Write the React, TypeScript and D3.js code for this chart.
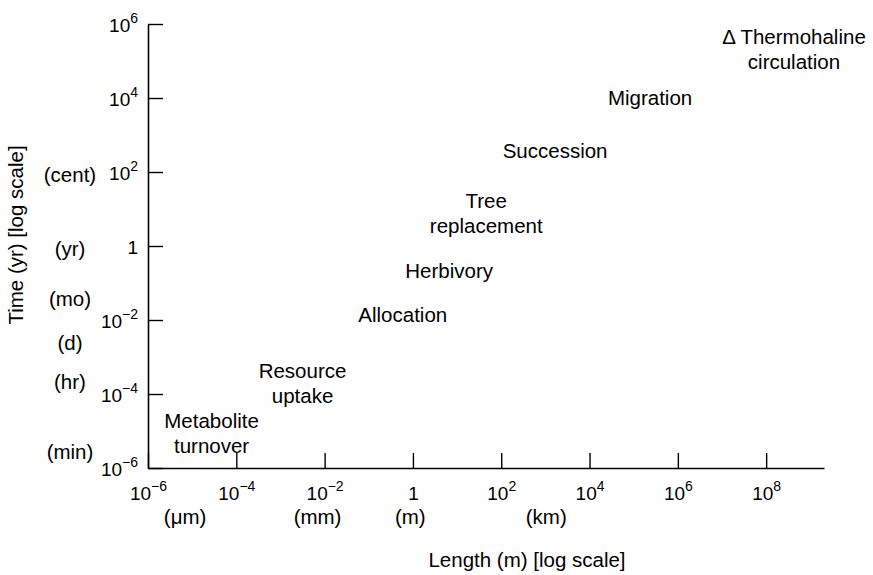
import React, { useRef, useEffect } from "react";
import * as d3 from "d3";

/* tick values (decades shown every 2) */
const X_TICKS = [1e-6, 1e-4, 1e-2, 1, 1e2, 1e4, 1e6, 1e8];
const Y_TICKS = [1e-6, 1e-4, 1e-2, 1, 1e2, 1e4, 1e6];

/* unit hints under / beside the axes */
const X_UNITS = ["(μm)", "(mm)", "(m)", "(km)"];
const X_UNIT_AT = [10 ** -5.16, 10 ** -2.16, 10 ** -0.06, 10 ** 3.02];
const Y_UNITS = ["(cent)", "(yr)", "(mo)", "(d)", "(hr)", "(min)"];
const Y_UNIT_AT = [10 ** 1.73, 10 ** -0.27, 10 ** -1.62, 10 ** -2.81, 10 ** -3.86, 10 ** -5.76];

/* processes: label lines, length (m), time (yr) */
const PROCESSES = [
  ["Metabolite", "turnover"],
  ["Resource", "uptake"],
  ["Allocation"],
  ["Herbivory"],
  ["Tree", "replacement"],
  ["Succession"],
  ["Migration"],
  ["Δ Thermohaline", "circulation"],
];
const PROCESS_LENGTH = [10 ** -4.56, 10 ** -2.5, 10 ** -0.23, 10 ** 0.82, 10 ** 1.66, 10 ** 3.22, 10 ** 5.37, 10 ** 8.63];
const PROCESS_TIME = [10 ** -4.92, 10 ** -3.57, 10 ** -2.05, 10 ** -0.865, 10 ** 1.03, 10 ** 2.38, 10 ** 3.81, 10 ** 5.46];

const FONT = "'Liberation Sans', Arial, Helvetica, sans-serif";

export default function App() {
  const svgRef = useRef<SVGSVGElement>(null);

  useEffect(() => {
    const W = 873;
    const H = 575;
    const x0 = 148;
    const y0 = 468;

    const x = d3.scaleLog().domain([1e-6, 10 ** 9.31]).range([x0, 824]);
    const y = d3.scaleLog().domain([1e-6, 1e6]).range([y0, 24]);

    const svg = d3
      .select(svgRef.current)
      .attr("width", W)
      .attr("height", H)
      .style("font-family", FONT);
    svg.selectAll("*").remove();

    svg.append("rect").attr("width", W).attr("height", H).attr("fill", "#fff");

    /* write 10^k with a raised exponent */
    const powerLabel = (sel: any, d: number) => {
      const k = Math.round(Math.log10(d));
      sel.text(null);
      if (k === 0) {
        sel.append("tspan").text("1");
        return;
      }
      sel.append("tspan").text("10");
      sel
        .append("tspan")
        .attr("dy", -9)
        .style("font-size", "14px")
        .text(k < 0 ? `\u2212${-k}` : `${k}`);
    };

    /* ---- x axis ---- */
    const gx = svg
      .append("g")
      .attr("transform", `translate(0,${y0})`)
      .call(
        d3
          .axisBottom(x)
          .tickValues(X_TICKS)
          .tickSizeInner(-15)
          .tickSizeOuter(0)
          .tickFormat(() => "")
      )
      .attr("font-family", FONT);
    gx.select(".domain").attr("stroke", "#000").attr("stroke-width", 1.6);
    gx.selectAll(".tick line").attr("stroke", "#000").attr("stroke-width", 1.4);
    gx.selectAll(".tick text")
      .attr("y", 32)
      .attr("dy", null)
      .attr("fill", "#000")
      .style("font-size", "19px")
      .each(function (d: any) {
        powerLabel(d3.select(this), d);
      });

    /* ---- y axis ---- */
    const gy = svg
      .append("g")
      .attr("transform", `translate(${x0},0)`)
      .call(
        d3
          .axisLeft(y)
          .tickValues(Y_TICKS)
          .tickSizeInner(-15)
          .tickSizeOuter(0)
          .tickFormat(() => "")
      )
      .attr("font-family", FONT);
    gy.select(".domain").attr("stroke", "#000").attr("stroke-width", 1.6);
    gy.selectAll(".tick line").attr("stroke", "#000").attr("stroke-width", 1.4);
    gy.selectAll(".tick text")
      .attr("x", -10)
      .attr("dy", 7.5)
      .attr("text-anchor", "end")
      .attr("fill", "#000")
      .style("font-size", "19px")
      .each(function (d: any) {
        powerLabel(d3.select(this), d);
      });

    /* ---- unit hints ---- */
    svg
      .append("g")
      .selectAll("text")
      .data(X_UNITS)
      .enter()
      .append("text")
      .attr("x", (_, i) => x(X_UNIT_AT[i]))
      .attr("y", 524)
      .attr("text-anchor", "middle")
      .style("font-size", "20.5px")
      .text((d) => d);

    svg
      .append("g")
      .selectAll("text")
      .data(Y_UNITS)
      .enter()
      .append("text")
      .attr("x", 70)
      .attr("y", (_, i) => y(Y_UNIT_AT[i]))
      .attr("text-anchor", "middle")
      .style("font-size", "20.5px")
      .text((d) => d);

    /* ---- axis titles ---- */
    svg
      .append("text")
      .attr("x", 527)
      .attr("y", 567)
      .attr("text-anchor", "middle")
      .style("font-size", "20.5px")
      .text("Length (m) [log scale]");

    svg
      .append("text")
      .attr("transform", `translate(23,235) rotate(-90)`)
      .attr("text-anchor", "middle")
      .style("font-size", "20.5px")
      .text("Time (yr) [log scale]");

    /* ---- process labels ---- */
    const labels = svg
      .append("g")
      .selectAll("text")
      .data(PROCESSES)
      .enter()
      .append("text")
      .attr("text-anchor", "middle")
      .style("font-size", "20.5px")
      .attr("transform", (_, i) => `translate(${x(PROCESS_LENGTH[i])},${y(PROCESS_TIME[i])})`);
    labels
      .selectAll("tspan")
      .data((d) => d)
      .enter()
      .append("tspan")
      .attr("x", 0)
      .attr("y", (_, j) => j * 25)
      .text((d) => d);
  }, []);

  return (
    <svg
      ref={svgRef}
      style={{ position: "absolute", left: 0, top: 0, display: "block" }}
    />
  );
}
